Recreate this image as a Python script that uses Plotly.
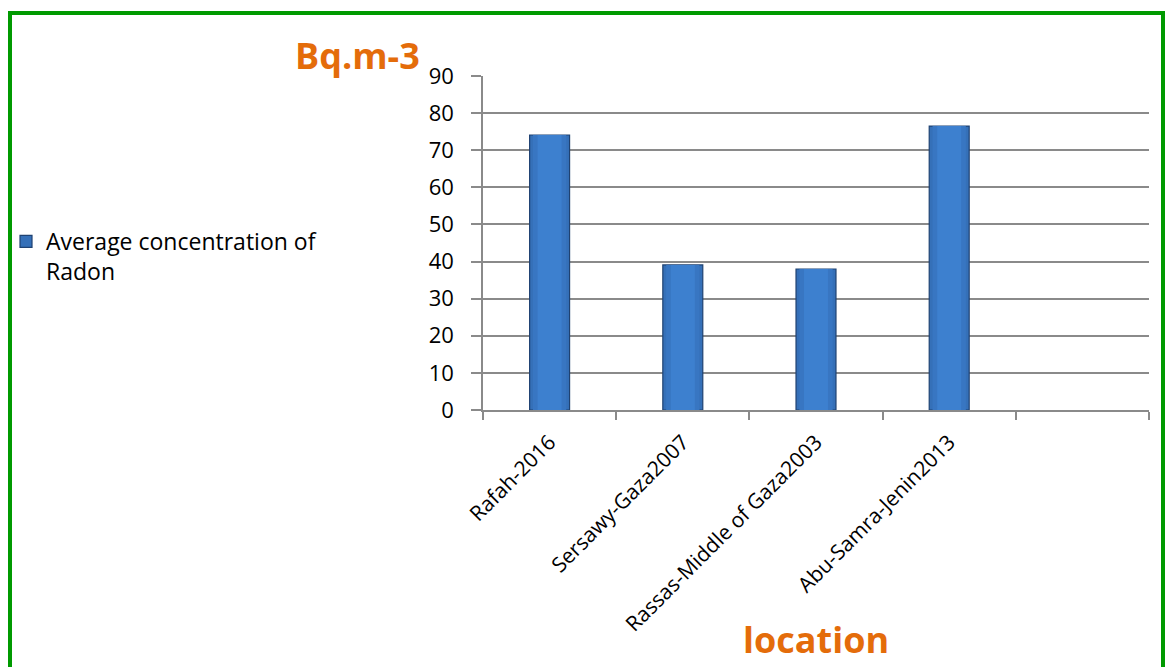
import plotly.graph_objects as go

categories = ["Rafah-2016", "Sersawy-Gaza2007", "Rassas-Middle of Gaza2003", "Abu-Samra-Jenin2013", " "]
values = [74.1, 39.1, 38.0, 76.5, None]
y_ticks = [0, 10, 20, 30, 40, 50, 60, 70, 80, 90]
series_name = "Average concentration of<br>Radon"

W, H = 1165, 667
L, R, T, B = 483, 16, 76, 257
PW, PH = W - L - R, H - T - B


def px(xp):
    return (xp - L) / PW


def py(yp):
    return 1 - (yp - T) / PH


FONT = "Open Sans, Calibri, sans-serif"
grid_c = "#8A8A8A"

fig = go.Figure()
# main bars (dark edges) - legend entry
fig.add_trace(go.Bar(
    x=categories, y=values, name=series_name, width=0.30,
    marker=dict(color="#3570B8", line=dict(color="#1F4272", width=1.2)),
    showlegend=True,
))
# lighter inner shading to mimic the gradient fill
fig.add_trace(go.Bar(
    x=categories, y=values, name=series_name, width=0.25,
    marker=dict(color="#3876C2", line=dict(width=0)),
    showlegend=False, hoverinfo="skip",
))
fig.add_trace(go.Bar(
    x=categories, y=values, name=series_name, width=0.18,
    marker=dict(color="#3D80CF", line=dict(width=0)),
    showlegend=False, hoverinfo="skip",
))

fig.update_layout(
    width=W, height=H,
    margin=dict(l=L, r=R, t=T, b=B, autoexpand=False),
    paper_bgcolor="white", plot_bgcolor="white",
    font=dict(family=FONT, size=20, color="black"),
    barmode="overlay",
    showlegend=True,
    legend=dict(x=px(6), y=py(220), xanchor="left", yanchor="top",
                font=dict(size=23), valign="top", bgcolor="rgba(0,0,0,0)",
                itemwidth=30, tracegroupgap=0),
    xaxis=dict(type="category", categoryorder="array", categoryarray=categories,
               tickson="boundaries", ticks="outside", ticklen=8, tickcolor=grid_c, tickwidth=1.5,
               showline=True, linecolor=grid_c, linewidth=1.5, showgrid=False,
               tickangle=-45, tickfont=dict(size=21), range=[-0.5, 4.5],
               ticklabelstandoff=10),
    yaxis=dict(range=[0, 90], tickvals=y_ticks, ticks="outside", ticklen=10, tickcolor=grid_c,
               tickwidth=1.5, showline=True, linecolor=grid_c, linewidth=1.5,
               showgrid=True, gridcolor=grid_c, gridwidth=1.8, zeroline=False,
               tickfont=dict(size=22), ticklabelstandoff=13),
    annotations=[
        dict(text="<b>Bq.m-3</b>", xref="paper", yref="paper",
             x=px(422), y=py(56),
             xanchor="right", yanchor="middle", showarrow=False,
             font=dict(size=36, color="#E46C0A", family=FONT)),
        dict(text="<b>location</b>", xref="paper", yref="paper",
             x=px(816), y=py(666),
             xanchor="center", yanchor="bottom", showarrow=False,
             font=dict(size=36, color="#E46C0A", family=FONT)),
    ],
    shapes=[
        dict(type="rect", xref="paper", yref="paper",
             x0=px(10), x1=px(1163),
             y0=py(690), y1=py(13),
             line=dict(color="#009A00", width=4), fillcolor="rgba(0,0,0,0)", layer="below"),
    ],
)

fig.write_html("out.html", config={"displayModeBar": False},
               post_script="document.body.style.margin='0px';document.body.style.overflow='hidden';")
